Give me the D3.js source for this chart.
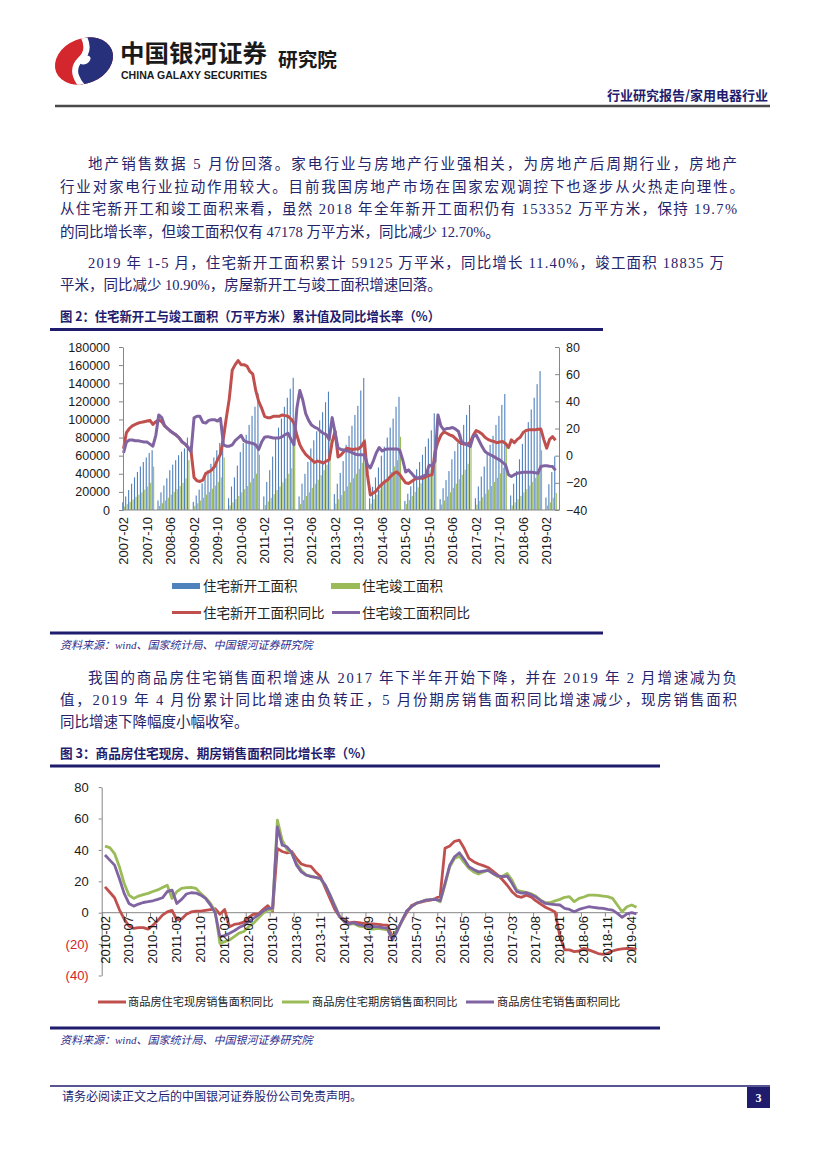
<!DOCTYPE html>
<html><head><meta charset="utf-8">
<script src="https://cdn.jsdelivr.net/npm/d3@7"></script>
<style>body{margin:0;background:#fff}svg{display:block}</style>
</head><body>
<svg id="page" width="827" height="1169"></svg>
<script>
// ---------- DATA : figure 2 ----------
const months1 = [];
for (let y = 2007; y <= 2019; y++) for (let m = 1; m <= 12; m++) {
  if ((y === 2007 && m < 2) || (y === 2019 && m > 5)) continue;
  months1.push(`${y}-${String(m).padStart(2, '0')}`);
}
const ticks1 = ["2007-02","2007-10","2008-06","2009-02","2009-10","2010-06","2011-02","2011-10","2012-06","2013-02","2013-10","2014-06","2015-02","2015-10","2016-06","2017-02","2017-10","2018-06","2019-02"];
const leftTicks1 = [0,20000,40000,60000,80000,100000,120000,140000,160000,180000];
const rightTicks1 = [-40,-20,0,20,40,60,80];

const newStartArea = [8500,15000,22000,29000,36000,42000,48000,53000,58000,63000,66000,
 null,10500,19500,27000,35000,44000,50000,55000,60500,64500,68000,80000,
 null,9000,16000,22500,29500,37000,44000,51000,58000,66000,74000,93000,
 null,13000,26000,36000,49000,64000,74000,83000,94000,104000,114000,129000,
 null,15000,31000,44000,59000,80000,91000,101000,114000,124000,134000,146000,
 null,15000,29000,40000,53000,68000,77000,87000,99000,108000,119000,130700,
 null,17500,29000,41000,54000,72000,82000,93000,105000,115000,132000,145800,
 null,13000,25500,36000,47000,60000,70000,80000,91000,101000,114000,124900,
 null,10000,18000,26000,34000,45000,53000,61000,70000,79000,88000,106700,
 null,12000,24000,33000,43000,56000,65000,74000,84000,94000,105000,115900,
 null,13000,26000,37000,48000,63000,72000,82000,94000,104000,116000,128100,
 null,16000,29000,43000,56000,73000,85000,97000,111000,124000,139000,153400,
 null,13800,28400,42000,59125];
const completedArea = [4000,6500,9000,11500,14500,17000,19500,22500,26000,30000,48000,
 null,4500,7500,10500,13500,17000,20000,23000,26500,30000,35000,55000,
 null,4500,7500,10500,13500,17000,20000,23500,27000,31000,36000,58000,
 null,5000,8500,12000,15500,19500,23000,26500,30500,35000,40000,61000,
 null,5500,9500,13500,17500,22000,26000,30500,35000,40000,46000,74300,
 null,6500,11000,15500,19500,24500,29000,33500,38500,44000,50000,79000,
 null,7000,12000,16500,21000,26000,30500,35000,40000,45500,52000,78700,
 null,7000,12000,17000,22000,27500,32000,37000,42000,48000,55000,80900,
 null,6500,11000,15500,20000,25000,29500,34000,38500,44000,50000,73800,
 null,6000,10500,15000,19500,24500,29000,34000,39000,44500,51000,77200,
 null,6000,10000,14000,18000,22500,26500,31000,35500,40500,46500,71800,
 null,5000,8500,12000,15500,19500,23000,27000,31000,35500,41000,66000,
 null,5000,8500,13500,18835];
const newStartYoY = [5,17,20,22,23,24,24.5,25,25.5,26,23,
 25,26.5,25,22,20,18,16.5,15,13,10,8.5,6,
 3,-16,-18.5,-19,-18,-13,-12,-10.5,-8,-3,1,13,
 28,42,63,67,70,67,67,66,62,60,48,40,
 35,29,28,28,29,29,29,30,29.5,29,27,24,
 15,8,4,1,-1,-3,-5,-4,-4.5,-5.5,-4,-3,
 10,18,-1,0.5,3,5.5,5,4.5,5,5,7,10.5,
 -14,-29,-27.5,-26,-23,-21,-19,-17.5,-15,-13,-12,-14,
 -17,-20,-20.5,-19,-17.5,-16.6,-16.6,-16.6,-15.5,-14.5,-14,3,
 10,15,17.5,16.5,15.3,14.5,12.5,10.5,9,8.5,8.4,10,
 15,18.5,17.5,16,13.5,12,11,10.5,9.5,10,10.4,9,
 6,11.6,9.5,12,13.5,17,18.5,19,19,19,19.5,19.7,
 12,5.5,12,14,11.4];
const completedYoY = [2,10,11.5,11.5,11,11,10.5,10,10,8.5,7,
 15,30,28,22,20,18,16.5,15,13,10,8.5,6,
 3,27.8,29,29,24.5,24,26,26.5,26.5,25.5,27.5,8,
 7,7,8,11,13,15,11,10,9.5,9,8,4.5,
 10,13.5,14,13.5,13,13,13,14,15.5,16.5,12,8,
 35,48,41,31,26,22.5,21,20,18,16.5,15.5,12,
 28,17,5.6,4.6,4.2,3.6,3,2,1,0.6,0.6,0.5,
 -6.7,-9,-4,2,6,3.5,4.5,5,5,5,5,4,
 -3,-12,-10.5,-13,-15.5,-16.5,-16,-15,-14,-7,-7.5,-4,
 30,22,19,20,20.2,20.7,19.5,17.8,10.4,9,8,6.7,
 14,15.3,11,6.7,3,1.5,0.5,-0.7,-2,-3.1,-5,-6.8,
 -14,-15.4,-14,-13,-12.5,-12.2,-12.2,-12.2,-12.2,-12.5,-13,-8,
 -7.5,-7.5,-7.8,-8,-10.9];

// ---------- DATA : figure 3 ----------
const months2 = months1.slice(months1.indexOf("2010-02"));
const ticks2 = ["2010-02","2010-07","2010-12","2011-05","2011-10","2012-03","2012-08","2013-01","2013-06","2013-11","2014-04","2014-09","2015-02","2015-07","2015-12","2016-05","2016-10","2017-03","2017-08","2018-01","2018-06","2018-11","2019-04"];
const yTicks2 = [-40,-20,0,20,40,60,80];
const existingYoY = [16.5,13,9.5,2,-4,-8.5,-10,-9.5,-9.5,-10.5,
 -8,-5,-1.5,0.5,1.5,-4.5,-4,-1,0.5,1,
 1,1.5,2,2.5,-1,2,-9,-7.5,-7,-6,
 -3,-1,-1,2,4.5,1,41,39,38,39,
 34.5,31,30,29.5,26,23,16,9,2,-2.5,
 -4.5,-6.5,-6,-6.4,-6.8,-7.2,-7.2,-7.5,-7.8,-8,
 -15.3,-11,-5.5,0,4.5,5.9,6.8,7.5,8,9,
 10.6,41,42.5,45.5,46.2,41,34.6,32.5,31,30,
 28.8,26.5,24,21,17.5,13.4,10.6,9.8,11.2,10,
 7.5,5.5,3.5,2,0.5,-15,-23.7,-23.7,-24.8,-24.4,
 -22.7,-23.7,-24.8,-26,-26.5,-25.9,-24.4,-23.5,-23.1,-22.7,
 -22.8,-23.3];
const presaleYoY = [42.4,41.5,37.7,29.3,18.7,11.2,9.1,10.6,11.5,12.3,
 13.5,14.5,16,17.5,9.1,13.4,15.5,16,16.1,15.5,
 12.3,9.5,6,1,-19.5,-18.4,-17.4,-15.3,-13,-12,
 -8.9,-6.8,-3.6,-0.4,1.7,1.7,59,46.2,40.3,37.7,
 31.4,27.1,24,23.3,22.5,21.5,17.6,11.2,4.9,-2.5,
 -5.7,-7.5,-7,-8.5,-9,-10.3,-10.5,-10,-10.5,-11,
 -16.3,-11,-5.5,1,3.8,6,7,8,8.3,8.5,
 7,17.6,29.3,34.6,36,32,28.2,26,24.6,26,
 27,25,23,23.3,25,20.8,14.4,13.5,13,12,
 10.5,8,6.4,6.4,7.5,8.5,9.8,10.2,7,9.1,
 10,11.2,11.2,11,10.6,10.2,9.1,4.9,0.6,3.8,
 4.9,3.4];
const totalYoY = [36.7,33.5,30.3,21.8,12.3,5.9,4.2,5.5,6.5,7,
 7.6,8.5,9.5,13.4,14.4,5.9,8.5,11.9,12.7,12.5,
 11.2,9.1,5,0,-15.3,-14.6,-13.1,-11.5,-9.5,-8,
 -5.5,-3.6,-1.5,1,2.8,2.8,54.7,43,42,38.2,
 30.3,26,24,23,22.5,21.8,17.6,11.2,3.8,-2.5,
 -5.7,-7,-6.4,-7.8,-8.3,-8.9,-8.9,-9,-9.5,-10,
 -17.4,-12,-5,1,3.8,6,7,8,8.3,8.5,
 7.6,18.7,30.3,35.6,38.2,34,29.3,27.5,26,26.5,
 27,25,23.5,22.9,23.3,18.7,13.4,12.5,12.7,11.5,
 10,7.6,5.9,5.5,5.2,4.9,2.8,2.1,0.6,2.1,
 3,3.8,3.4,3,2.8,2.1,1.7,-0.4,-3,-0.8,
 0,-0.8];

// ---------- STYLE ----------
const NAVY = "#1f1c6e", TXT = "#25236a";
const C_BLUE = "#4f81bd", C_GREEN = "#9bbb59", C_RED = "#c0504d", C_PURPLE = "#8064a2", AXIS = "#868686";
const bodyFont = "'Liberation Serif','Noto Sans CJK SC',serif";
const cjk = "'Noto Sans CJK SC','Liberation Sans',sans-serif";
const num = "'Liberation Sans','Noto Sans CJK SC',sans-serif";

const svg = d3.select("#page");
svg.append("rect").attr("width",827).attr("height",1169).attr("fill","#fff");

// ---------- HEADER ----------
const defs = svg.append("defs");
defs.append("clipPath").attr("id","logoClip").append("ellipse")
  .attr("cx",84).attr("cy",61).attr("rx",30).attr("ry",22.5).attr("transform","rotate(-22 84 61)");
const logo = svg.append("g").attr("clip-path","url(#logoClip)");
logo.append("rect").attr("x",50).attr("y",30).attr("width",70).attr("height",62).attr("fill","#d4262d");
logo.append("path").attr("d","M78 28 Q94 48 80 60 Q66 74 92 96 L125 96 L125 28 Z").attr("fill","#27307a");
logo.append("path").attr("d","M78 28 Q94 48 80 60 Q66 74 92 96").attr("fill","none").attr("stroke","#fff").attr("stroke-width",6);
logo.append("ellipse").attr("cx",85).attr("cy",60).attr("rx",6).attr("ry",4).attr("fill","#fff").attr("transform","rotate(-30 85 60)");

svg.append("text").attr("x",120).attr("y",62).text("中国银河证券")
  .attr("font-family",cjk).attr("font-weight","bold").attr("font-size",24).attr("fill","#1a1a1a")
  .attr("textLength",147).attr("lengthAdjust","spacingAndGlyphs");
svg.append("text").attr("x",121).attr("y",79).text("CHINA GALAXY SECURITIES")
  .attr("font-family","'Liberation Sans',sans-serif").attr("font-weight","bold").attr("font-size",10.5).attr("fill","#1a1a1a")
  .attr("textLength",146).attr("lengthAdjust","spacingAndGlyphs");
svg.append("text").attr("x",278).attr("y",67).text("研究院")
  .attr("font-family",cjk).attr("font-weight","bold").attr("font-size",19).attr("fill","#1a1a1a")
  .attr("textLength",59).attr("lengthAdjust","spacingAndGlyphs");
svg.append("text").attr("x",768).attr("y",100).attr("text-anchor","end").text("行业研究报告/家用电器行业")
  .attr("font-family",cjk).attr("font-weight","bold").attr("font-size",13).attr("fill",NAVY);
svg.append("line").attr("x1",55).attr("x2",770).attr("y1",106).attr("y2",106).attr("stroke","#4a4a4a").attr("stroke-width",2.5);

// ---------- BODY TEXT ----------
function para(lines) {
  lines.forEach(l => {
    const t = svg.append("text").attr("x",l[0]).attr("y",l[1]).text(l[2])
      .attr("font-family",bodyFont).attr("font-size",14.5).attr("fill",TXT);
    if (l[3]) t.attr("textLength",l[3]-l[0]).attr("lengthAdjust","spacing");
  });
}
para([
  [88,169,"地产销售数据 5 月份回落。家电行业与房地产行业强相关，为房地产后周期行业，房地产",737],
  [60,191.5,"行业对家电行业拉动作用较大。目前我国房地产市场在国家宏观调控下也逐步从火热走向理性。",744],
  [60,214,"从住宅新开工和竣工面积来看，虽然 2018 年全年新开工面积仍有 153352 万平方米，保持 19.7%",737],
  [60,236.5,"的同比增长率，但竣工面积仅有 47178 万平方米，同比减少 12.70%。",null],
  [88,268,"2019 年 1-5 月，住宅新开工面积累计 59125 万平米，同比增长 11.40%，竣工面积 18835 万",724],
  [60,290,"平米，同比减少 10.90%，房屋新开工与竣工面积增速回落。",null],
  [88,683,"我国的商品房住宅销售面积增速从 2017 年下半年开始下降，并在 2019 年 2 月增速减为负",737],
  [60,705,"值，2019 年 4 月份累计同比增速由负转正，5 月份期房销售面积同比增速减少，现房销售面积",737],
  [60,727,"同比增速下降幅度小幅收窄。",null]
]);

function title(x, y, s, len) {
  svg.append("text").attr("x",x).attr("y",y).text(s).attr("font-family",cjk).attr("font-weight","bold")
    .attr("font-size",13).attr("fill",NAVY).attr("textLength",len).attr("lengthAdjust","spacingAndGlyphs");
}
function rule(x1, x2, y, w) {
  svg.append("line").attr("x1",x1).attr("x2",x2).attr("y1",y).attr("y2",y).attr("stroke",NAVY).attr("stroke-width",w);
}
function source(y) {
  svg.append("text").attr("x",60).attr("y",y).text("资料来源：wind、国家统计局、中国银河证券研究院")
    .attr("font-family",bodyFont).attr("font-style","italic").attr("font-size",11).attr("fill","#2e2c8c");
}
title(60,321,"图 2：住宅新开工与竣工面积（万平方米）累计值及同比增长率（%）",380);
rule(50,603,329.5,3);
rule(50,603,633,3);
source(649);
title(60,757.5,"图 3：商品房住宅现房、期房销售面积同比增长率（%）",313);
rule(50,660,766,3);
rule(50,660,1028,3);
source(1044);

// ---------- FIGURE 2 ----------
const c1 = svg.append("g");
const x1 = d3.scalePoint().domain(months1).range([123.5, 555.5]);
const yL = d3.scaleLinear().domain([0,180000]).range([510,347]);
const yR = d3.scaleLinear().domain([-40,80]).range([510,347]);
const bars = months1.map((m,i) => ({m, a:newStartArea[i], b:completedArea[i]}));
c1.append("g").selectAll("rect").data(bars.filter(d=>d.a!=null)).join("rect")
  .attr("x",d=>x1(d.m)-1.3).attr("width",1.1).attr("y",d=>yL(d.a)).attr("height",d=>yL(0)-yL(d.a)).attr("fill",C_BLUE);
c1.append("g").selectAll("rect").data(bars.filter(d=>d.b!=null)).join("rect")
  .attr("x",d=>x1(d.m)+0.2).attr("width",1.1).attr("y",d=>yL(d.b)).attr("height",d=>yL(0)-yL(d.b)).attr("fill",C_GREEN);

const lineR = d3.line().defined(d=>d.v!=null).x(d=>x1(d.m)).y(d=>yR(d.v));
[[newStartYoY,C_RED],[completedYoY,C_PURPLE]].forEach(([arr,col]) => {
  c1.append("path").datum(months1.map((m,i)=>({m,v:arr[i]}))).attr("d",lineR)
    .attr("fill","none").attr("stroke",col).attr("stroke-width",3).attr("stroke-linejoin","round");
});

function styleAxis(g, size) {
  g.select(".domain").attr("stroke",AXIS);
  g.selectAll(".tick line").attr("stroke",AXIS);
  g.selectAll("text").attr("font-family",num).attr("font-size",size).attr("fill","#1a1a1a");
}
c1.append("g").attr("transform","translate(123,0)")
  .call(d3.axisLeft(yL).tickValues(leftTicks1).tickSize(4).tickSizeOuter(0).tickPadding(9).tickFormat(d3.format("d")))
  .call(g=>styleAxis(g,12.5));
c1.append("g").attr("transform","translate(559,0)")
  .call(d3.axisRight(yR).tickValues(rightTicks1).tickSize(-4).tickSizeOuter(0).tickPadding(7).tickFormat(d3.format("d")))
  .call(g=>styleAxis(g,12.5));
c1.append("line").attr("x1",123).attr("x2",559).attr("y1",510).attr("y2",510).attr("stroke",AXIS);
c1.append("g").selectAll("text").data(ticks1).join("text")
  .attr("transform",d=>`translate(${x1(d)+4.5},517) rotate(-90)`).attr("text-anchor","end")
  .attr("font-family",num).attr("font-size",13).attr("fill","#1a1a1a").text(d=>d);

// legend fig 2
const lg1 = svg.append("g").attr("font-family",cjk).attr("font-size",13.5).attr("fill","#222");
lg1.append("rect").attr("x",172).attr("y",583).attr("width",28).attr("height",6).attr("fill",C_BLUE);
lg1.append("text").attr("x",203).attr("y",591).text("住宅新开工面积");
lg1.append("rect").attr("x",331).attr("y",583).attr("width",29).attr("height",6).attr("fill",C_GREEN);
lg1.append("text").attr("x",362).attr("y",591).text("住宅竣工面积");
lg1.append("line").attr("x1",172).attr("x2",201).attr("y1",612.5).attr("y2",612.5).attr("stroke",C_RED).attr("stroke-width",3);
lg1.append("text").attr("x",203).attr("y",617.5).text("住宅新开工面积同比");
lg1.append("line").attr("x1",332).attr("x2",360).attr("y1",612.5).attr("y2",612.5).attr("stroke",C_PURPLE).attr("stroke-width",3);
lg1.append("text").attr("x",362).attr("y",617.5).text("住宅竣工面积同比");

// ---------- FIGURE 3 ----------
const c2 = svg.append("g");
const x2 = d3.scalePoint().domain(months2).range([105, 636.5]);
const y2 = d3.scaleLinear().domain([-40,80]).range([975.5,787.1]);
const line2 = d3.line().x(d=>x2(d.m)).y(d=>y2(d.v));
c2.append("g").attr("transform","translate(101.7,0)")
  .call(d3.axisLeft(y2).tickValues(yTicks2).tickSize(3).tickSizeOuter(0).tickPadding(10)
    .tickFormat(d=> d<0 ? `(${-d})` : d))
  .call(g=>styleAxis(g,13))
  .call(g=>g.selectAll("text").attr("fill",d=> d<0 ? "#d2222a" : "#1a1a1a"));
c2.append("line").attr("x1",101.7).attr("x2",638).attr("y1",y2(0)).attr("y2",y2(0)).attr("stroke",AXIS);
const step2 = x2.step();
c2.append("g").selectAll("line").data(ticks2).join("line")
  .attr("x1",d=>x2(d)-step2/2).attr("x2",d=>x2(d)-step2/2).attr("y1",y2(0)).attr("y2",y2(0)+4).attr("stroke",AXIS);
[[existingYoY,C_RED],[presaleYoY,C_GREEN],[totalYoY,C_PURPLE]].forEach(([arr,col]) => {
  c2.append("path").datum(months2.map((m,i)=>({m,v:arr[i]}))).attr("d",line2)
    .attr("fill","none").attr("stroke",col).attr("stroke-width",2.8).attr("stroke-linejoin","round");
});
c2.append("g").selectAll("text").data(ticks2).join("text")
  .attr("transform",d=>`translate(${x2(d)+4.5},916) rotate(-90)`).attr("text-anchor","end")
  .attr("font-family",num).attr("font-size",13).attr("fill","#1a1a1a").text(d=>d);

// legend fig 3
const lg2 = svg.append("g").attr("font-family",cjk).attr("font-size",11.2).attr("fill","#222");
[[98,126,128,C_RED,"商品房住宅现房销售面积同比"],[282,309,312,C_GREEN,"商品房住宅期房销售面积同比"],[466,494,497,C_PURPLE,"商品房住宅销售面积同比"]]
 .forEach(([a,b,t,col,s]) => {
  lg2.append("line").attr("x1",a).attr("x2",b).attr("y1",1002).attr("y2",1002).attr("stroke",col).attr("stroke-width",3);
  lg2.append("text").attr("x",t).attr("y",1006).text(s);
 });

// ---------- FOOTER ----------
svg.append("line").attr("x1",50).attr("x2",770).attr("y1",1086).attr("y2",1086).attr("stroke",NAVY).attr("stroke-width",1.5);
svg.append("text").attr("x",62).attr("y",1101).text("请务必阅读正文之后的中国银河证券股份公司免责声明。")
  .attr("font-family",bodyFont).attr("font-size",12).attr("fill",NAVY);
svg.append("rect").attr("x",747).attr("y",1087).attr("width",23).attr("height",21).attr("fill",NAVY);
svg.append("text").attr("x",758.5).attr("y",1102).attr("text-anchor","middle").text("3")
  .attr("font-family","'Liberation Serif',serif").attr("font-weight","bold").attr("font-size",12).attr("fill","#fff");
</script>
</body></html>
